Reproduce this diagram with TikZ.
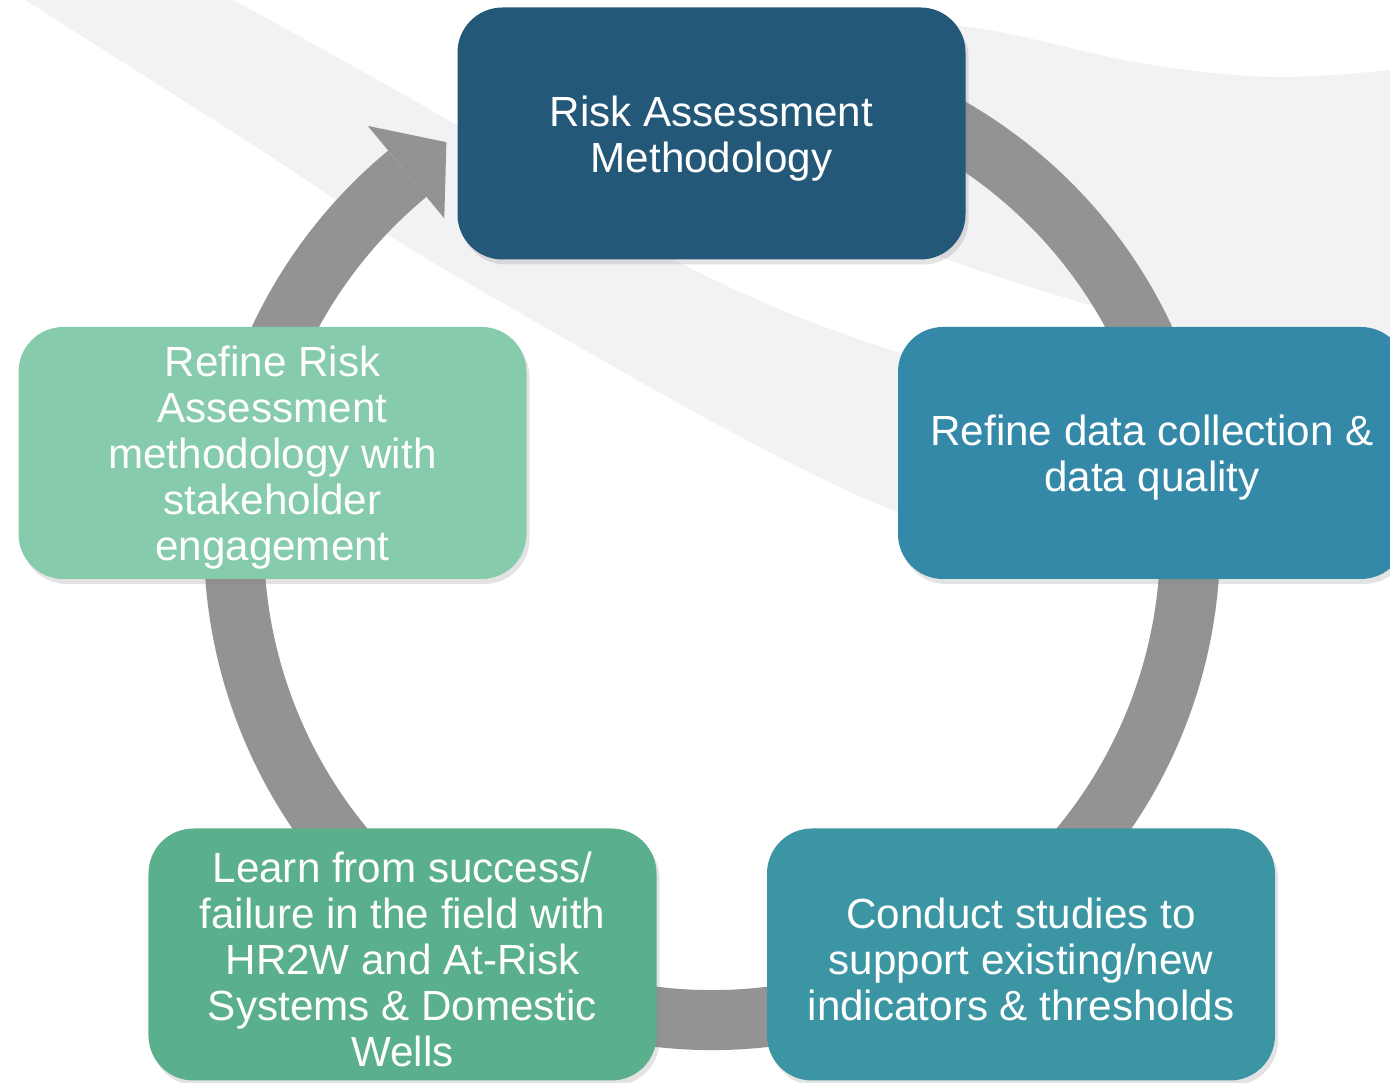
\documentclass[tikz,border=0pt]{standalone}
\usepackage{fontspec}
\setmainfont{Liberation Sans}
\usetikzlibrary{calc,shadows}
\definecolor{cmth}{HTML}{235878}
\definecolor{cdat}{HTML}{3589A8}
\definecolor{cstd}{HTML}{3B95A3}
\definecolor{clrn}{HTML}{5AAF8C}
\definecolor{ceng}{HTML}{86CBAB}
\definecolor{cring}{HTML}{939393}
\definecolor{cwave}{HTML}{F2F2F4}
\begin{document}
\begin{tikzpicture}[scale=1, font=\fontsize{12}{13.1}\selectfont, line join=round, line cap=round, >=stealth,
	stepbox/.style={rounded corners=0.45cm, minimum width=5.08cm, minimum height=2.52cm, inner sep=0pt,
		drop shadow={opacity=0.22, shadow xshift=0.03cm, shadow yshift=-0.05cm}},
	steptext/.style={align=center, text=white, inner sep=0pt}]
	\useasboundingbox (0,0) rectangle (13.90,10.83);
	\path 
	(7.115,9.495) coordinate (M)
	(11.52,6.30) coordinate (D)
	(10.21,1.285) coordinate (S)
	(4.025,1.285) coordinate (L)
	(2.725,6.30) coordinate (E)
	(7.12,5.41) coordinate (O)
	;
	% background waves
	\fill[cwave] plot[smooth, tension=0.6] coordinates {(0.25,10.83) (2.5,9.40) (4.80,7.93) (9.00,5.70) (11.5,5.40) (13.9,5.60)}
	-- plot[smooth, tension=0.6] coordinates {(13.9,7.0) (11.5,6.70) (9.00,7.30) (6.80,8.20) (4.60,9.56) (2.33,10.83)} -- cycle;
	\fill[cwave] plot[smooth, tension=0.6] coordinates {(8.00,10.60) (9.67,10.56) (11.40,10.20) (12.73,10.06) (13.90,10.13)}
	-- plot[smooth, tension=0.6] coordinates {(13.9,7.20) (12.5,7.30) (11.75,7.57) (11.07,7.73) (9.40,8.26) (7.00,9.20)} -- cycle;
	% ring with arrow head
	\draw[cring, line width=0.6cm, line cap=butt] (O) ++(110:4.78) arc[start angle=110, end angle=-230.4, radius=4.78];
	\fill[cring] ($(O)+(129.6:5.40)$) -- ($(O)+(123.6:4.80)$) -- ($(O)+(129.6:4.20)$) -- cycle;
	% steps
	\foreach \d/\c/\t in {M/cmth/{Risk Assessment\\Methodology},
		D/cdat/{Refine data collection \&\\data quality},
		S/cstd/{Conduct studies to\\support existing/new\\indicators \& thresholds},
		L/clrn/{Learn from success/\\failure in the field with\\HR2W and At-Risk\\Systems \& Domestic\\Wells},
		E/ceng/{Refine Risk\\Assessment\\methodology with\\stakeholder\\engagement}}
	{
		\node[stepbox, fill=\c] (step\d) at (\d) {};
		\node[steptext] (text\d) at ([yshift=-0.05cm]step\d.center) {\t};
	}
\end{tikzpicture}
\end{document}
